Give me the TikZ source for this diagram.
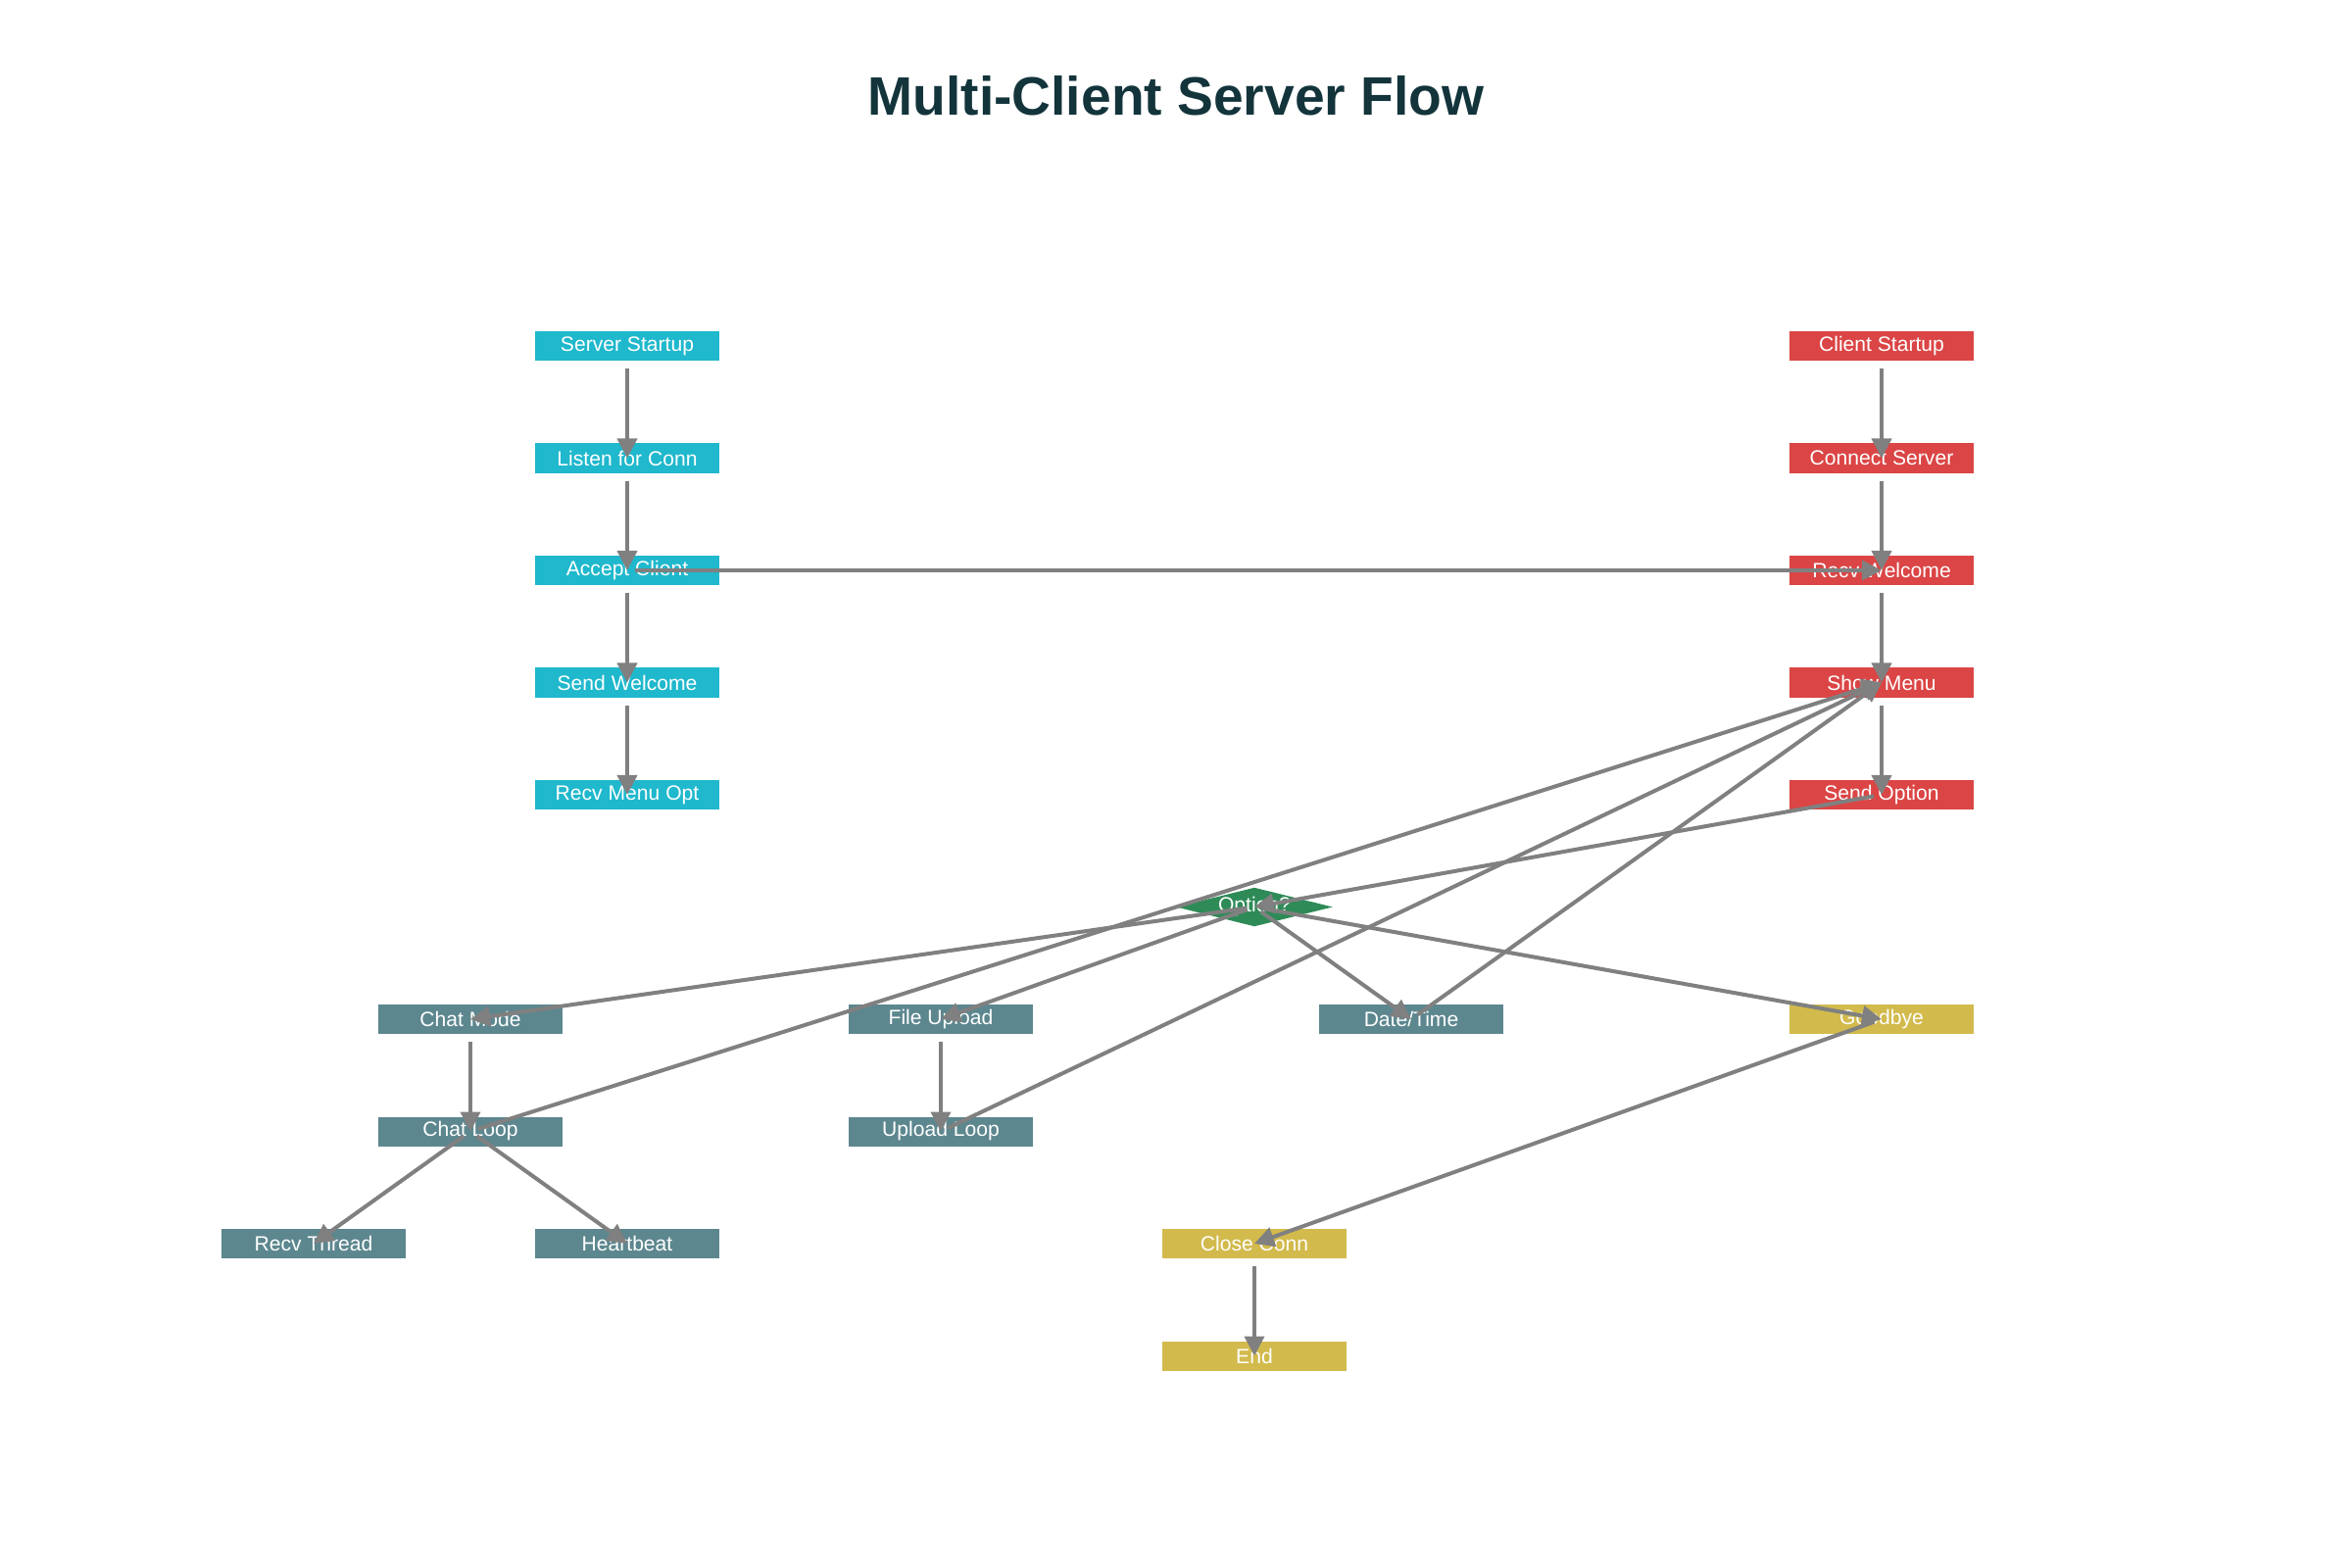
\documentclass[tikz,border=0pt]{standalone}
\usepackage{fontspec}
\setmainfont{Liberation Sans}
\usetikzlibrary{arrows.meta,shapes.geometric}
\definecolor{srvc}{HTML}{1FB8CD}
\definecolor{clic}{HTML}{DB4545}
\definecolor{modc}{HTML}{5D878F}
\definecolor{endc}{HTML}{D2BA4C}
\definecolor{optc}{HTML}{2E8B57}
\definecolor{edgec}{HTML}{808080}
\definecolor{titc}{HTML}{13343B}

\begin{document}
\begin{tikzpicture}[x=0.01cm, y=-0.01cm,
  box/.style={fill=#1, text=white, minimum width=1.88cm, minimum height=0.3cm, inner sep=0pt, font=\fontsize{6}{7}\selectfont},
  choice/.style={diamond, fill=optc, text=white, aspect=4, minimum width=1.6cm, minimum height=0.4cm, inner sep=0pt, font=\fontsize{6}{7}\selectfont},
  title/.style={text=titc, font=\fontsize{15.7}{19}\selectfont\bfseries},
  flow/.style={draw=edgec, line width=0.04cm, -{Triangle[length=0.2cm,width=0.2cm]}, shorten <=0.08cm},
  down/.style={flow, shorten <=0.23cm}]
\useasboundingbox (0,0) rectangle (2400,1600);
\node[title] (ttl) at (1200,98) {Multi-Client Server Flow};

\node[box=srvc] (sst) at (640,353) {Server Startup};
\node[box=srvc] (lis) at (640,467.5) {Listen for Conn};
\node[box=srvc] (acc) at (640,582) {Accept Client};
\node[box=srvc] (swl) at (640,696.5) {Send Welcome};
\node[box=srvc] (rmo) at (640,811) {Recv Menu Opt};

\node[box=clic] (cst) at (1920,353) {Client Startup};
\node[box=clic] (con) at (1920,467.5) {Connect Server};
\node[box=clic] (rwl) at (1920,582) {Recv Welcome};
\node[box=clic] (shm) at (1920,696.5) {Show Menu};
\node[box=clic] (sop) at (1920,811) {Send Option};

\node[choice] (opt) at (1280,925.5) {Option?};

\node[box=modc] (chm) at (480,1040) {Chat Mode};
\node[box=modc] (fup) at (960,1040) {File Upload};
\node[box=modc] (dtm) at (1440,1040) {Date/Time};
\node[box=endc] (gby) at (1920,1040) {Goodbye};
\node[box=modc] (chl) at (480,1154.5) {Chat Loop};
\node[box=modc] (upl) at (960,1154.5) {Upload Loop};
\node[box=modc] (rth) at (320,1269) {Recv Thread};
\node[box=modc] (hbt) at (640,1269) {Heartbeat};
\node[box=endc] (clc) at (1280,1269) {Close Conn};
\node[box=endc] (fin) at (1280,1383.5) {End};

\draw[down] (sst.center) -- (lis.center);
\draw[down] (lis.center) -- (acc.center);
\draw[down] (acc.center) -- (swl.center);
\draw[down] (swl.center) -- (rmo.center);
\draw[flow] (acc.center) -- (rwl.center);
\draw[down] (cst.center) -- (con.center);
\draw[down] (con.center) -- (rwl.center);
\draw[down] (rwl.center) -- (shm.center);
\draw[down] (shm.center) -- (sop.center);
\draw[flow] (sop.center) -- (opt.center);
\draw[flow] (opt.center) -- (chm.center);
\draw[flow] (opt.center) -- (fup.center);
\draw[flow] (opt.center) -- (dtm.center);
\draw[flow] (opt.center) -- (gby.center);
\draw[down] (chm.center) -- (chl.center);
\draw[down] (fup.center) -- (upl.center);
\draw[flow] (chl.center) -- (rth.center);
\draw[flow] (chl.center) -- (hbt.center);
\draw[flow] (chl.center) -- (shm.center);
\draw[flow] (upl.center) -- (shm.center);
\draw[flow] (dtm.center) -- (shm.center);
\draw[flow] (gby.center) -- (clc.center);
\draw[down] (clc.center) -- (fin.center);
\end{tikzpicture}
\end{document}
